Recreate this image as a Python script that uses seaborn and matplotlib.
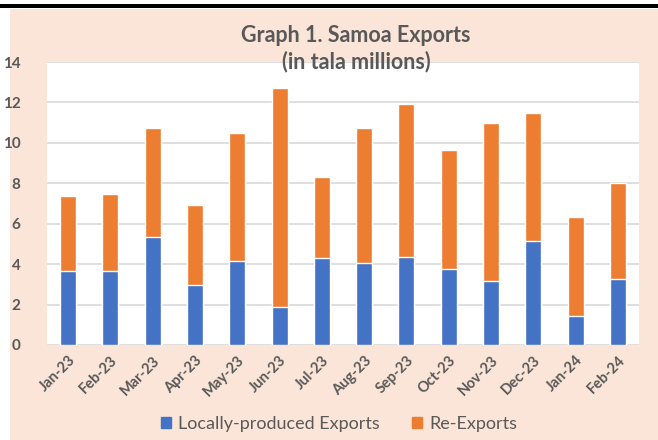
import matplotlib
matplotlib.use("Agg")
import matplotlib.pyplot as plt
import matplotlib.patches as mpatches
import seaborn as sns
import pandas as pd

months = ["Jan-23", "Feb-23", "Mar-23", "Apr-23", "May-23", "Jun-23", "Jul-23",
          "Aug-23", "Sep-23", "Oct-23", "Nov-23", "Dec-23", "Jan-24", "Feb-24"]
local_exports = [3.65, 3.68, 5.35, 2.97, 4.16, 1.88, 4.30, 4.06, 4.36, 3.76, 3.17, 5.16, 1.42, 3.27]
re_exports = [3.74, 3.81, 5.39, 3.96, 6.34, 10.82, 4.00, 6.68, 7.57, 5.89, 7.83, 6.34, 4.92, 4.75]
yticks = [0, 2, 4, 6, 8, 10, 12, 14]

BLUE = "#4472C4"
ORANGE = "#ED7D31"
PEACH = "#FAE5D8"
GRAY = "#595959"

df = pd.DataFrame({"month": months, "local": local_exports, "re": re_exports})
df["total"] = df["local"] + df["re"]

sns.set_theme(style="white")
plt.rcParams['font.family'] = ['Lato', 'DejaVu Sans']

fig = plt.figure(figsize=(6.58, 4.40), dpi=100)
fig.patch.set_facecolor("white")
fig.patches.append(mpatches.Rectangle((10/658, 0), 1, 1 - 9/440, transform=fig.transFigure,
                                      facecolor=PEACH, edgecolor="none", zorder=-10))
fig.patches.append(mpatches.Rectangle((0, 1 - 8/440), 1, 4/440, transform=fig.transFigure,
                                      facecolor="black", edgecolor="none", zorder=-9))

ax = fig.add_axes([47/658, 1 - 345/440, (639 - 47)/658, (345 - 62)/440])
ax.set_zorder(1)
ax.set_facecolor("white")

sns.barplot(data=df, x="month", y="total", color=ORANGE, width=0.38, saturation=1,
            ax=ax, zorder=3)
sns.barplot(data=df, x="month", y="local", color=BLUE, width=0.38, saturation=1,
            ax=ax, zorder=4)

ax.set_ylim(0, 14)
ax.set_yticks(yticks)
ax.set_yticklabels([str(v) for v in yticks], fontsize=11, fontweight="bold", color=GRAY)
ax.yaxis.grid(True, color="#D9D9D9", linewidth=1.2, zorder=0)
ax.set_axisbelow(True)
for s in ax.spines.values():
    s.set_visible(False)
ax.tick_params(axis="y", length=0, pad=19)
ax.tick_params(axis="x", length=0, pad=6)
ax.set_xlabel("")
ax.set_ylabel("")
plt.setp(ax.get_xticklabels(), rotation=45, ha="right", rotation_mode="anchor",
         fontsize=10.5, fontweight="bold", color=GRAY)

fig.text(356/658, 1 - 35/440, "Graph 1. Samoa Exports", ha="center", va="center",
         fontsize=15.5, fontweight="bold", color=GRAY, zorder=5)
fig.text(356/658, 1 - 62/440, "(in tala millions)", ha="center", va="center",
         fontsize=15.5, fontweight="bold", color=GRAY, zorder=5)

handles = [mpatches.Patch(color=BLUE, label="Locally-produced Exports"),
           mpatches.Patch(color=ORANGE, label="Re-Exports")]
leg = fig.legend(handles=handles, loc="center", bbox_to_anchor=(339/658, 1 - 424/440),
                 ncol=2, frameon=False, fontsize=13, handlelength=0.55, handleheight=0.55,
                 handletextpad=0.4, columnspacing=1.8)
for t in leg.get_texts():
    t.set_color(GRAY)

fig.savefig("out.png", dpi=100, facecolor=fig.get_facecolor())
